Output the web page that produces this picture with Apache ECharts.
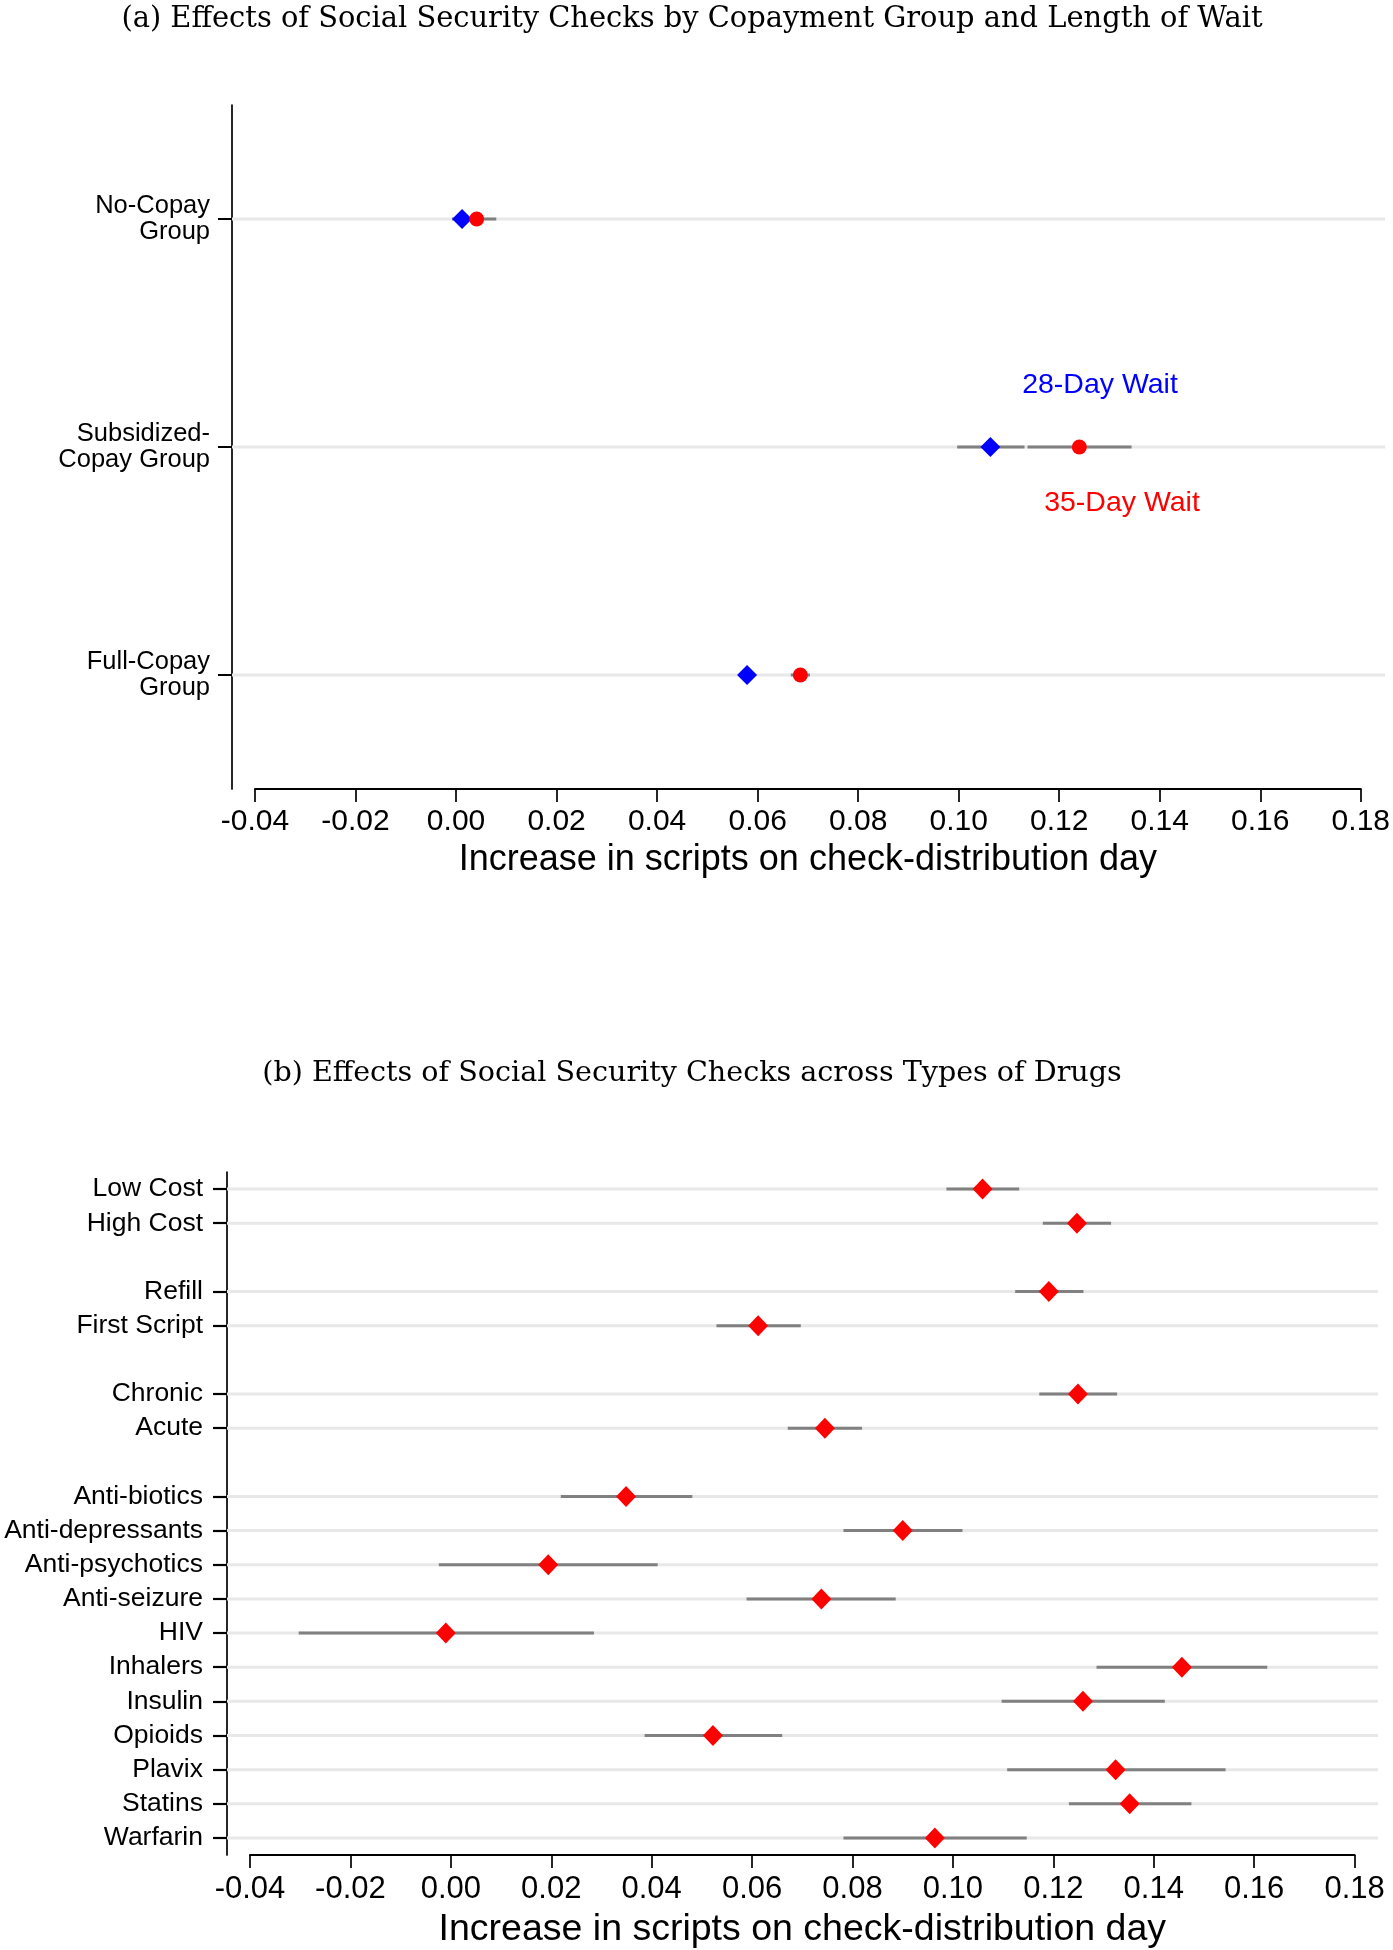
<!DOCTYPE html>
<html>
<head>
<meta charset="utf-8">
<script src="https://cdn.jsdelivr.net/npm/echarts@6/dist/echarts.min.js"></script>
<style>
  html, body { margin: 0; padding: 0; background: #fff; }
  #chart { width: 1393px; height: 1950px; }
</style>
</head>
<body>
<div id="chart"></div>
<script>
// panel (a): copay groups, 28-day vs 35-day wait
const copayGroups = ['No-Copay\nGroup', 'Subsidized-\nCopay Group', 'Full-Copay\nGroup'];
const wait28 = [0.0012, 0.1063, 0.0579];
const wait28Lo = [-0.0008, 0.0997, 0.0566];
const wait28Hi = [0.0032, 0.1131, 0.0592];
const wait35 = [0.0041, 0.1240, 0.0685];
const wait35Lo = [0.0002, 0.1137, 0.0666];
const wait35Hi = [0.0080, 0.1344, 0.0704];

// panel (b): drug types, '' = spacer row between groups
const drugTypes = ['Low Cost', 'High Cost', '', 'Refill', 'First Script', '', 'Chronic', 'Acute', '',
  'Anti-biotics', 'Anti-depressants', 'Anti-psychotics', 'Anti-seizure', 'HIV', 'Inhalers',
  'Insulin', 'Opioids', 'Plavix', 'Statins', 'Warfarin'];
const drugEffect = [0.1059, 0.1247, null, 0.1191, 0.0612, null, 0.1249, 0.0745, null,
  0.0349, 0.0900, 0.0194, 0.0738, -0.0010, 0.1456, 0.1259, 0.0522, 0.1324, 0.1352, 0.0964];
const drugLo = [0.0987, 0.1179, null, 0.1124, 0.0529, null, 0.1172, 0.0671, null,
  0.0219, 0.0782, -0.0024, 0.0589, -0.0303, 0.1286, 0.1097, 0.0386, 0.1108, 0.1231, 0.0782];
const drugHi = [0.1132, 0.1315, null, 0.1260, 0.0697, null, 0.1327, 0.0819, null,
  0.0481, 0.1019, 0.0412, 0.0886, 0.0285, 0.1626, 0.1422, 0.0660, 0.1543, 0.1475, 0.1147];

const titleA = '(a) Effects of Social Security Checks by Copayment Group and Length of Wait';
const titleB = '(b) Effects of Social Security Checks across Types of Drugs';
const xName = 'Increase in scripts on check-distribution day';

const sans = '"Liberation Sans", Arial, Helvetica, sans-serif';
const serif = '"DejaVu Serif", serif';

function rowLine(params, api) {
  const y = api.coord([0, api.value(1)])[1];
  const cs = params.coordSys;
  return {
    type: 'line',
    shape: {x1: cs.x, y1: y, x2: cs.x + cs.width, y2: y},
    style: {stroke: '#e8e8e8', lineWidth: 3}
  };
}

function ciLine(params, api) {
  const a = api.coord([api.value(0), api.value(2)]);
  const b = api.coord([api.value(1), api.value(2)]);
  return {
    type: 'line',
    shape: {x1: a[0], y1: a[1], x2: b[0], y2: b[1]},
    style: {stroke: '#808080', lineWidth: 3}
  };
}

function valueAxis(gridIndex, margin, nameGap, labelSize, nameSize) {
  return {
    type: 'value',
    gridIndex: gridIndex,
    min: -0.04,
    max: 0.18,
    interval: 0.02,
    axisLine: {show: true, lineStyle: {color: '#000', width: 2}},
    axisTick: {show: true, length: 13, lineStyle: {color: '#000', width: 1.7}},
    axisLabel: {
      formatter: v => v.toFixed(2),
      fontSize: labelSize, color: '#000', fontFamily: sans, margin: margin
    },
    splitLine: {show: false},
    name: xName,
    nameLocation: 'middle',
    nameGap: nameGap,
    nameTextStyle: {fontSize: nameSize, color: '#000', fontFamily: sans}
  };
}

function hiddenX(gridIndex) {
  return {type: 'value', gridIndex: gridIndex, min: 0, max: 1, show: false};
}

function hiddenY(gridIndex, data) {
  return {type: 'category', gridIndex: gridIndex, data: data, inverse: true, show: false};
}

const chart = echarts.init(document.getElementById('chart'), null, {renderer: 'canvas'});

const drugRows = [];
const drugCI = [];
const drugPts = [];
drugTypes.forEach((d, i) => {
  if (d === '') return;
  drugRows.push([0, i]);
  drugCI.push([drugLo[i], drugHi[i], i]);
  drugPts.push([drugEffect[i], i]);
});

chart.setOption({
  animation: false,
  backgroundColor: '#fff',
  graphic: [
    {type: 'text', x: 692, y: 19, style: {text: titleA, font: '28.9px ' + serif, fill: '#000',
      align: 'center', verticalAlign: 'middle', textAlign: 'center', textVerticalAlign: 'middle'}},
    {type: 'text', x: 692, y: 1074, style: {text: titleB, font: '28.6px ' + serif, fill: '#000',
      align: 'center', verticalAlign: 'middle', textAlign: 'center', textVerticalAlign: 'middle'}},
    {type: 'text', x: 1100, y: 385, style: {text: '28-Day Wait', font: '28.5px ' + sans, fill: '#0000ff',
      align: 'center', verticalAlign: 'middle', textAlign: 'center', textVerticalAlign: 'middle'}},
    {type: 'text', x: 1122, y: 503, style: {text: '35-Day Wait', font: '28.5px ' + sans, fill: '#ff0000',
      align: 'center', verticalAlign: 'middle', textAlign: 'center', textVerticalAlign: 'middle'}}
  ],
  grid: [
    {left: 232, right: 8, top: 105, height: 684},
    {left: 255, right: 31, top: 105, height: 684},
    {left: 227, right: 15, top: 1172, height: 683},
    {left: 250, right: 38.4, top: 1172, height: 683}
  ],
  xAxis: [
    hiddenX(0),
    valueAxis(1, 18, 53, 30, 36),
    hiddenX(2),
    valueAxis(3, 19, 56, 31, 37.5)
  ],
  yAxis: [
    {
      type: 'category',
      gridIndex: 0,
      data: copayGroups,
      inverse: true,
      axisLine: {show: true, lineStyle: {color: '#000', width: 1.7}},
      axisTick: {show: true, alignWithLabel: true, length: 14, lineStyle: {color: '#000', width: 2}},
      axisLabel: {interval: 0, fontSize: 25.5, lineHeight: 26, color: '#000', fontFamily: sans,
        margin: 22, align: 'right'},
      splitLine: {show: false}
    },
    hiddenY(1, copayGroups),
    {
      type: 'category',
      gridIndex: 2,
      data: drugTypes,
      inverse: true,
      axisLine: {show: true, lineStyle: {color: '#000', width: 1.7}},
      axisTick: {show: true, alignWithLabel: true, length: 14, lineStyle: {color: '#000', width: 2.2},
        interval: (idx, val) => val !== ''},
      axisLabel: {interval: 0, fontSize: 26.5, color: '#000', fontFamily: sans, margin: 24, align: 'right'},
      splitLine: {show: false}
    },
    hiddenY(3, drugTypes)
  ],
  series: [
    {
      type: 'custom', xAxisIndex: 0, yAxisIndex: 0, silent: true,
      data: copayGroups.map((g, i) => [0, i]),
      encode: {x: 0, y: 1},
      renderItem: rowLine
    },
    {
      type: 'custom', xAxisIndex: 2, yAxisIndex: 2, silent: true,
      data: drugRows,
      encode: {x: 0, y: 1},
      renderItem: rowLine
    },
    {
      type: 'custom', name: '28-Day CI', xAxisIndex: 1, yAxisIndex: 1, silent: true,
      data: wait28Lo.map((lo, i) => [lo, wait28Hi[i], i]),
      encode: {x: [0, 1], y: 2},
      renderItem: ciLine
    },
    {
      type: 'custom', name: '35-Day CI', xAxisIndex: 1, yAxisIndex: 1, silent: true,
      data: wait35Lo.map((lo, i) => [lo, wait35Hi[i], i]),
      encode: {x: [0, 1], y: 2},
      renderItem: ciLine
    },
    {
      type: 'scatter', name: '28-Day Wait', xAxisIndex: 1, yAxisIndex: 1, silent: true,
      symbol: 'diamond', symbolSize: 20,
      itemStyle: {color: '#0000ff', opacity: 1},
      data: wait28.map((v, i) => [v, i])
    },
    {
      type: 'scatter', name: '35-Day Wait', xAxisIndex: 1, yAxisIndex: 1, silent: true,
      symbol: 'circle', symbolSize: 15,
      itemStyle: {color: '#ff0000', opacity: 1},
      data: wait35.map((v, i) => [v, i])
    },
    {
      type: 'custom', name: 'Drug CI', xAxisIndex: 3, yAxisIndex: 3, silent: true,
      data: drugCI,
      encode: {x: [0, 1], y: 2},
      renderItem: ciLine
    },
    {
      type: 'scatter', name: 'Drug effect', xAxisIndex: 3, yAxisIndex: 3, silent: true,
      symbol: 'diamond', symbolSize: [20, 21],
      itemStyle: {color: '#ff0000', opacity: 1},
      data: drugPts
    }
  ]
});
</script>
</body>
</html>
